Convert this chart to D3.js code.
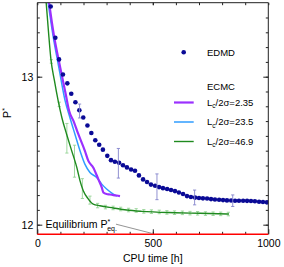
<!DOCTYPE html>
<html>
<head>
<meta charset="utf-8">
<script src="https://cdn.jsdelivr.net/npm/d3@7"></script>
<style>
  body { margin: 0; background: #fff; }
  svg { display: block; font-family: "Liberation Sans", Arial, sans-serif; }
</style>
</head>
<body>
<div id="chart"></div>
<script>
// EDMD run (dots)
const edmdTime = [58, 78, 94, 111, 130, 147, 165, 182, 199, 217, 234, 251, 268, 284, 303, 319, 336, 354, 371, 388,
  406, 423, 440, 458, 475, 492, 510, 527, 544, 562, 579, 596, 613, 631, 648, 665, 683, 700, 717, 735,
  752, 769, 787, 804, 821, 839, 856, 873, 891, 908, 925, 942, 960, 977, 994];
const edmdP = [13.474, 13.263, 13.117, 13.015, 12.955, 12.885, 12.827, 12.773, 12.724, 12.670, 12.620, 12.571, 12.540, 12.507, 12.465, 12.436, 12.425, 12.418, 12.402, 12.387,
  12.373, 12.364, 12.333, 12.306, 12.288, 12.271, 12.263, 12.254, 12.247, 12.241, 12.234, 12.227, 12.217, 12.207, 12.193, 12.187, 12.183, 12.180, 12.178, 12.177,
  12.173, 12.170, 12.168, 12.166, 12.164, 12.163, 12.162, 12.162, 12.162, 12.161, 12.160, 12.158, 12.155, 12.153, 12.151];
const edmdErrTime = [183, 351, 518, 681, 846];
const edmdErrP = [12.768, 12.415, 12.256, 12.184, 12.162];
const edmdErr = [0.047, 0.100, 0.087, 0.050, 0.039];

// ECMC runs, Lc/2sigma = 2.35, 23.5, 46.9
const lc235Time = [45, 72, 100, 124, 137, 159, 176, 206, 221, 242, 264, 279, 286, 300, 315, 329, 343, 358];
const lc235P = [13.568, 13.278, 13.056, 12.874, 12.773, 12.692, 12.618, 12.499, 12.431, 12.387, 12.308, 12.252, 12.218, 12.207, 12.204, 12.200, 12.197, 12.193];

const lc23_5Time = [41, 68, 94, 120, 142, 163, 185, 206, 228, 257, 279, 300, 329, 345];
const lc23_5P = [13.568, 13.278, 13.056, 12.840, 12.719, 12.611, 12.499, 12.409, 12.353, 12.319, 12.274, 12.241, 12.207, 12.193];

const lc46_9Time = [35, 48, 59, 74, 90, 107, 127, 149, 171, 185, 199, 221, 242, 271, 329, 387, 453, 597, 704, 829];
const lc46_9P = [13.568, 13.312, 13.117, 12.975, 12.840, 12.719, 12.611, 12.499, 12.387, 12.296, 12.229, 12.173, 12.139, 12.128, 12.113, 12.099, 12.090, 12.081, 12.077, 12.072];
const lc46_9ErrTime = [61, 95, 128, 161, 195, 228, 261, 295, 328, 361, 395, 428, 461, 494, 528, 561, 594, 628, 661, 694, 728, 761, 794, 827];
const lc46_9ErrP = [13.103, 12.813, 12.584, 12.429, 12.244, 12.166, 12.129, 12.119, 12.113, 12.106, 12.099, 12.096, 12.090, 12.088, 12.086, 12.083, 12.081, 12.080, 12.078, 12.077, 12.075, 12.074, 12.073, 12.072];
const lc46_9Err = [0.012, 0.015, 0.100, 0.108, 0.067, 0.027, 0.015, 0.012, 0.012, 0.012, 0.012, 0.012, 0.012, 0.012, 0.012, 0.012, 0.012, 0.012, 0.012, 0.012, 0.012, 0.012, 0.012, 0.012];

const xTicks = [0, 500, 1000];
const yTicks = [12, 13];
const pEq = 11.935;
const pEqPointerTime = 495;

const width = 284, height = 267;
const plotLeft = 37.3, plotRight = 268.3, plotTop = 2.7, plotBottom = 234.3;

const x = d3.scaleLinear().domain([0, 1000]).range([plotLeft, plotRight]);
const y = d3.scaleLinear().domain([pEq, 13.5]).range([plotBottom, plotTop]);

const svg = d3.select('#chart').append('svg')
    .attr('width', width)
    .attr('height', height);

svg.append('clipPath').attr('id', 'plot-clip')
  .append('rect')
    .attr('x', plotLeft).attr('y', plotTop)
    .attr('width', plotRight - plotLeft).attr('height', plotBottom - plotTop);

const plot = svg.append('g').attr('clip-path', 'url(#plot-clip)');

const errBars = (g, times, ps, errs, color) => {
    const bars = g.append('g')
        .attr('stroke', color)
        .attr('stroke-width', 0.9)
        .attr('fill', 'none')
      .selectAll('g')
      .data(times.map((t, i) => ({ t, p: ps[i], e: errs[i] })))
      .join('g');
    bars.append('line')
        .attr('x1', d => x(d.t)).attr('x2', d => x(d.t))
        .attr('y1', d => y(d.p - d.e)).attr('y2', d => y(d.p + d.e));
    bars.append('line')
        .attr('x1', d => x(d.t) - 1.6).attr('x2', d => x(d.t) + 1.6)
        .attr('y1', d => y(d.p - d.e)).attr('y2', d => y(d.p - d.e));
    bars.append('line')
        .attr('x1', d => x(d.t) - 1.6).attr('x2', d => x(d.t) + 1.6)
        .attr('y1', d => y(d.p + d.e)).attr('y2', d => y(d.p + d.e));
};

const line = d3.line().x(d => x(d[0])).y(d => y(d[1])).curve(d3.curveMonotoneX);

const series = [
    { time: lc46_9Time, p: lc46_9P, color: '#1f8a1f', w: 1.4, label: '46.9' },
    { time: lc23_5Time, p: lc23_5P, color: '#2f9cff', w: 1.5, label: '23.5' },
    { time: lc235Time, p: lc235P, color: '#9b30ff', w: 2.2, label: '2.35' }
];

errBars(plot, lc46_9ErrTime, lc46_9ErrP, lc46_9Err, '#95d495');

series.forEach(s => {
    plot.append('path')
        .datum(s.time.map((t, i) => [t, s.p[i]]))
        .attr('fill', 'none')
        .attr('stroke', s.color)
        .attr('stroke-width', s.w)
        .attr('stroke-linejoin', 'round')
        .attr('d', line);
});

plot.append('g')
    .attr('fill', '#0a0a96')
  .selectAll('circle')
  .data(edmdTime.map((t, i) => [t, edmdP[i]]))
  .join('circle')
    .attr('cx', d => x(d[0]))
    .attr('cy', d => y(d[1]))
    .attr('r', 2.3);

errBars(plot, edmdErrTime, edmdErrP, edmdErr, '#8585cc');

// axes, ticks pointing inward on all four sides
const minorX = d3.range(100, 1000, 100);
const minorY = d3.range(12.0, 13.45, 0.1);
const intFormat = d3.format('d');

const axisStyle = g => {
    g.select('.domain').remove();
    g.selectAll('line').attr('stroke', '#222');
    g.selectAll('text').attr('font-size', 10.5).attr('fill', '#000');
};

svg.append('g').attr('transform', `translate(0,${plotBottom})`)
    .call(d3.axisBottom(x).tickValues(xTicks).tickFormat(intFormat).tickSize(-5).tickPadding(5))
    .call(axisStyle);
svg.append('g').attr('transform', `translate(0,${plotBottom})`)
    .call(d3.axisBottom(x).tickValues(minorX).tickSize(-2.5).tickFormat(''))
    .call(axisStyle);
svg.append('g').attr('transform', `translate(0,${plotTop})`)
    .call(d3.axisTop(x).tickValues(xTicks.concat(minorX)).tickSize(-2.5).tickFormat(''))
    .call(axisStyle);

svg.append('g').attr('transform', `translate(${plotLeft},0)`)
    .call(d3.axisLeft(y).tickValues(yTicks).tickFormat(intFormat).tickSize(-5).tickPadding(4))
    .call(axisStyle);
svg.append('g').attr('transform', `translate(${plotLeft},0)`)
    .call(d3.axisLeft(y).tickValues(minorY).tickSize(-2.5).tickFormat(''))
    .call(axisStyle);
svg.append('g').attr('transform', `translate(${plotRight},0)`)
    .call(d3.axisRight(y).tickValues(yTicks).tickSize(-5).tickFormat(''))
    .call(axisStyle);
svg.append('g').attr('transform', `translate(${plotRight},0)`)
    .call(d3.axisRight(y).tickValues(minorY).tickSize(-2.5).tickFormat(''))
    .call(axisStyle);

// frame, bottom edge is the equilibrium line
svg.append('path')
    .attr('d', `M${plotLeft},${plotBottom}V${plotTop}H${plotRight}V${plotBottom}`)
    .attr('fill', 'none')
    .attr('stroke', '#222')
    .attr('stroke-width', 1);
svg.append('line')
    .attr('x1', x(0)).attr('x2', x(1000))
    .attr('y1', y(pEq)).attr('y2', y(pEq))
    .attr('stroke', '#ff0000')
    .attr('stroke-width', 1.6);

// axis titles
svg.append('text')
    .attr('x', (plotLeft + plotRight) / 2)
    .attr('y', 262)
    .attr('text-anchor', 'middle')
    .attr('font-size', 10.5)
    .text('CPU time [h]');

const yTitle = svg.append('text')
    .attr('transform', 'translate(11,113) rotate(-90)')
    .attr('text-anchor', 'middle')
    .attr('font-size', 10.5);
yTitle.append('tspan').text('P');
yTitle.append('tspan').attr('dy', -4).attr('font-size', 7).text('*');

// equilibrium annotation
const eqText = svg.append('text')
    .attr('x', x(36))
    .attr('y', y(12) + 3.8)
    .attr('font-size', 10.5);
eqText.append('tspan').text('Equilibrium P');
eqText.append('tspan').attr('dy', -4).attr('font-size', 7).text('*');
eqText.append('tspan').attr('dy', 7).attr('dx', -3).attr('font-size', 7).text('eq.');
const eqBox = eqText.node().getBBox();
svg.append('line')
    .attr('x1', eqBox.x + eqBox.width - 1).attr('y1', y(12) - 0.5)
    .attr('x2', x(pEqPointerTime)).attr('y2', y(pEq) - 1)
    .attr('stroke', '#666')
    .attr('stroke-width', 0.7);

// legend
const legend = svg.append('g').attr('font-size', 9.5);
legend.append('circle').attr('cx', 183.7).attr('cy', 52.3).attr('r', 2.3).attr('fill', '#0a0a96');
legend.append('text').attr('x', 221).attr('y', 55.7).attr('text-anchor', 'middle').text('EDMD');
legend.append('text').attr('x', 221).attr('y', 89.5).attr('text-anchor', 'middle').text('ECMC');

series.slice().reverse().forEach((s, i) => {
    const ly = 102.5 + i * 19.5;
    legend.append('line')
        .attr('x1', 174).attr('x2', 193.7)
        .attr('y1', ly).attr('y2', ly)
        .attr('stroke', s.color)
        .attr('stroke-width', s.w);
    const t = legend.append('text').attr('x', 207).attr('y', ly + 3.4);
    t.append('tspan').text('L');
    t.append('tspan').attr('dy', 2.5).attr('font-size', 6.5).text('c');
    t.append('tspan').attr('dy', -2.5).text(`/2σ=${s.label}`);
});
</script>
</body>
</html>
